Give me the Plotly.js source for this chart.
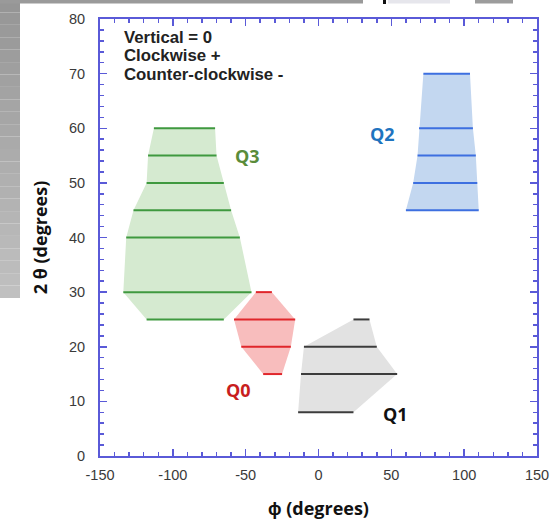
<!DOCTYPE html>
<html>
<head>
<meta charset="utf-8">
<script src="https://cdn.plot.ly/plotly-3.0.1.min.js"></script>
<style>
  html, body { margin: 0; padding: 0; background: #ffffff; }
  #chart { width: 551px; height: 522px; }
</style>
</head>
<body>
<div id="chart"></div>
<script>
// ---- data ----
const q3Y     = [60, 55, 50, 45, 40, 30, 25];
const q3Left  = [-113, -117, -118, -127, -132, -134, -118];
const q3Right = [-71, -70, -65, -60, -54, -46, -65];

const q0Y     = [30, 25, 20, 15];
const q0Left  = [-43, -58, -53, -38];
const q0Right = [-32, -16, -19, -25];

const q1Y     = [25, 20, 15, 8];
const q1Left  = [24, -10, -12, -14];
const q1Right = [35, 40, 54, 24];

const q2Y     = [70, 60, 55, 50, 45];
const q2Left  = [72, 69, 68, 65, 60];
const q2Right = [104, 106, 108, 109, 110];

const groupNames = ["Q3", "Q0", "Q1", "Q2"];
const labelX = [-49, -55, 53, 44];
const labelY = [55, 12, 7.6, 59];

const xTickVals = [-150, -100, -50, 0, 50, 100, 150];
const xTickText = ["-150", "-100", "-50", "0", "50", "100", "150"];
const yTickVals = [0, 10, 20, 30, 40, 50, 60, 70, 80];
const yTickText = ["0", "10", "20", "30", "40", "50", "60", "70", "80"];

const noteLines = ["Vertical = 0", "Clockwise +", "Counter-clockwise -"];
const xTitle = "ϕ (degrees)";
const yTitle = "2 θ (degrees)";

// ---- styling ----
const styles = {
  Q3: { line: "#3f993f", fill: "#d5ead0", label: "#5a8c3a" },
  Q0: { line: "#e0262b", fill: "#f8bdbd", label: "#c81e1e" },
  Q1: { line: "#3c3c3c", fill: "#e2e2e2", label: "#111111" },
  Q2: { line: "#3d6fe0", fill: "#c3d7f0", label: "#1f74bf" }
};

const groups = {
  Q3: [q3Y, q3Left, q3Right],
  Q0: [q0Y, q0Left, q0Right],
  Q1: [q1Y, q1Left, q1Right],
  Q2: [q2Y, q2Left, q2Right]
};

const traces = [];
groupNames.forEach(name => {
  const [ys, ls, rs] = groups[name];
  const px = ls.concat(rs.slice().reverse());
  const py = ys.concat(ys.slice().reverse());
  traces.push({
    type: "scatter", mode: "lines", x: px, y: py,
    fill: "toself", fillcolor: styles[name].fill,
    line: { width: 0, color: styles[name].fill },
    hoverinfo: "skip", showlegend: false
  });
});
groupNames.forEach(name => {
  const [ys, ls, rs] = groups[name];
  const lx = [], ly = [];
  ys.forEach((yv, i) => { lx.push(ls[i], rs[i], null); ly.push(yv, yv, null); });
  traces.push({
    type: "scatter", mode: "lines", x: lx, y: ly,
    line: { width: 2, color: styles[name].line },
    hoverinfo: "skip", showlegend: false
  });
});

const L = 100, R = 537, T = 19, B = 456;
const pxToPaperX = p => (p - L) / (R - L);
const pxToPaperY = p => (B - p) / (B - T);

const annotations = groupNames.map((name, i) => ({
  x: labelX[i], y: labelY[i], xref: "x", yref: "y",
  text: "<b>" + name + "</b>", showarrow: false,
  font: { family: "Open Sans, Liberation Sans, sans-serif", size: 18, color: styles[name].label }
}));
const notePx = [37.5, 56, 74.5];
noteLines.forEach((t, i) => {
  annotations.push({
    x: pxToPaperX(122), y: pxToPaperY(notePx[i]), xref: "paper", yref: "paper",
    xanchor: "left", yanchor: "middle", align: "left", showarrow: false,
    text: "<b>" + t + "</b>",
    font: { family: "Liberation Sans, Arial, sans-serif", size: 16.8, color: "#222222" }
  });
});

// screenshot frame (grey bands)
const shapes = [];
const nSteps = 24, bandBottom = 298;
for (let i = 0; i < nSteps; i++) {
  const t = i / (nSteps - 1);
  const g = Math.round(150 + t * 42);
  const c = "rgb(" + g + "," + g + "," + g + ")";
  shapes.push({ type: "rect", xref: "paper", yref: "paper", layer: "below",
    x0: pxToPaperX(0), x1: pxToPaperX(20),
    y0: pxToPaperY(bandBottom * (i + 1) / nSteps), y1: pxToPaperY(bandBottom * i / nSteps),
    line: { width: 0 }, fillcolor: c });
}
const topBands = [[0, 363, "#9a9a9a"], [388, 450, "#e6e6ec"], [475, 513, "#9c9c9c"]];
topBands.forEach(b => {
  shapes.push({ type: "rect", xref: "paper", yref: "paper", layer: "below",
    x0: pxToPaperX(b[0]), x1: pxToPaperX(b[1]), y0: pxToPaperY(3.5), y1: pxToPaperY(0),
    line: { width: 0 }, fillcolor: b[2] });
});
shapes.push({ type: "rect", xref: "paper", yref: "paper", layer: "below",
  x0: pxToPaperX(383), x1: pxToPaperX(386), y0: pxToPaperY(4), y1: pxToPaperY(0),
  line: { width: 0 }, fillcolor: "#111111" });

const axisColor = "#5a5ad8";
const tickFont = { family: "Liberation Sans, Arial, sans-serif", size: 14.5, color: "#3a3a3a" };
const titleFont = { family: "Open Sans, Liberation Sans, sans-serif", size: 18, color: "#111111" };

const layout = {
  width: 551, height: 522,
  margin: { l: L, r: 551 - R, t: T, b: 522 - B },
  paper_bgcolor: "#ffffff", plot_bgcolor: "#ffffff",
  showlegend: false,
  xaxis: {
    range: [-150, 150], tickmode: "array", tickvals: xTickVals, ticktext: xTickText,
    showgrid: false, zeroline: false,
    showline: true, linecolor: axisColor, linewidth: 2, mirror: "allticks",
    ticks: "inside", ticklen: 7, tickwidth: 1.5, tickcolor: axisColor,
    minor: { dtick: 10, tick0: -150, ticks: "inside", ticklen: 4, tickwidth: 1.5, tickcolor: axisColor, showgrid: false },
    tickfont: tickFont, ticklabelstandoff: 5,
    title: { text: "<b>" + xTitle + "</b>", standoff: 20, font: titleFont }
  },
  yaxis: {
    range: [0, 80], tickmode: "array", tickvals: yTickVals, ticktext: yTickText,
    showgrid: false, zeroline: false,
    showline: true, linecolor: axisColor, linewidth: 2, mirror: "allticks",
    ticks: "inside", ticklen: 7, tickwidth: 1.5, tickcolor: axisColor,
    minor: { dtick: 2, tick0: 0, ticks: "inside", ticklen: 4, tickwidth: 1.5, tickcolor: axisColor, showgrid: false },
    tickfont: tickFont, ticklabelstandoff: 10,
    title: { text: "<b>" + yTitle + "</b>", standoff: 17, font: titleFont }
  },
  annotations: annotations,
  shapes: shapes
};

Plotly.newPlot("chart", traces, layout, { displayModeBar: false, staticPlot: true });
</script>
</body>
</html>
